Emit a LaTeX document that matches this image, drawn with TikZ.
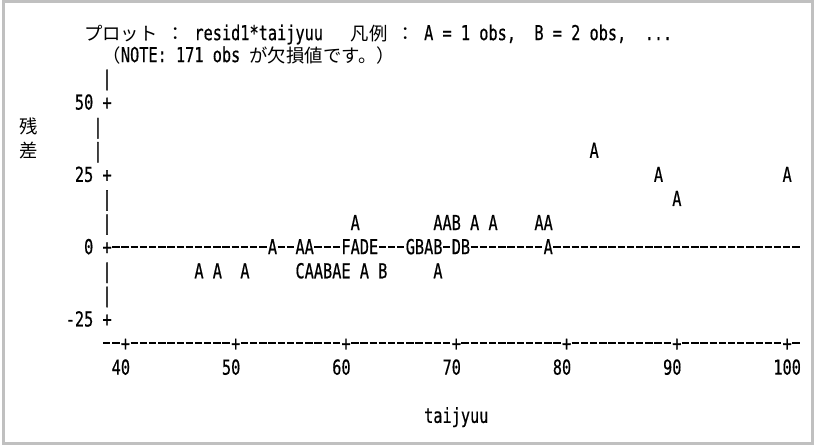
\documentclass[tikz,border=0pt]{standalone}
\usepackage{fontspec}
\usepackage{graphicx}
\newfontfamily\plotmono[FakeBold=0.6]{DejaVu Sans Mono}
\newfontfamily\plotjp{Noto Sans CJK JP}
\definecolor{framegray}{RGB}{192,192,192}
\tikzset{
  lp/.style={inner sep=0pt, anchor=base west, yscale=1.35, transform shape,
    font=\plotmono\fontsize{7.63pt}{9pt}\selectfont},
  jp/.style={inner sep=0pt, anchor=base west,
    font=\plotjp\fontsize{9.19pt}{10pt}\selectfont},
  dashseg/.style={line width=1pt}
}
\begin{document}
\begin{tikzpicture}[x=0.5pt,y=-0.5pt]
  \useasboundingbox (0,0) rectangle (819,445);
  % frame of the output window
  \draw[framegray, line width=1.5pt] (3,1.5) rectangle (812.5,443.5);

  % character grid: one unit = one column, one row
  \begin{scope}[shift={(106.7,78)}, x=4.595pt, y=-12.05pt]
    % title lines
    \node[jp] (plotjp) at (-2.5,-1.57) {プロット};
    \node[jp] (colonA) at (6.5,-1.57) {：};
    \node[lp] (plotvar) at (9.5,-1.57) {resid1*taijyuu};
    \node[jp] (legendjp) at (26.5,-1.57) {凡例};
    \node[jp] (colonB) at (31.5,-1.57) {：};
    \node[lp] (legendA) at (34.5,-1.57) {A = 1 obs,};
    \node[lp] (legendB) at (46.5,-1.57) {B = 2 obs,};
    \node[lp] (legendC) at (58.5,-1.57) {...};
    \node[jp] (noteopen) at (-0.5,-0.66) {（};
    \node[lp] (note) at (1.5,-0.66) {NOTE: 171 obs};
    \node[jp] (notejp) at (15.5,-0.66) {が欠損値です。）};

    % vertical axis
    \foreach \r in {0,5,6,8,9}
      \node[lp] (vbar\r) at (-0.5,\r+0.31) {|};
    \foreach \r in {2,3}
      \node[lp] (vbar\r) at (-1.5,\r+0.31) {|};
    \foreach \r in {1,4,7,10}
      \node[lp] (vtick\r) at (-0.5,\r+0.31) {+};
    \node[lp] (ylab50) at (-3.5,1.31) {50};
    \node[lp] (ylab25) at (-3.5,4.31) {25};
    \node[lp] (ylab0) at (-2.5,7.31) {0};
    \node[lp] (ylabm25) at (-4.5,10.31) {-25};
    \node[jp] (ytitleA) at (-9.5,2.3) {残};
    \node[jp] (ytitleB) at (-9.5,3.3) {差};

    % reference line at 0
    \foreach \a/\b in {1/17,19/20,23/25,30/32,37/37,40/47,49/75}
      \foreach \i in {\a,...,\b}
        \draw[dashseg] (\i-0.4,7) -- (\i+0.4,7);

    % horizontal axis
    \foreach \a/\b in {0/1,3/13,15/25,27/37,39/49,51/61,63/73,75/75}
      \foreach \i in {\a,...,\b}
        \draw[dashseg] (\i-0.4,11) -- (\i+0.4,11);
    \foreach \k/\v in {2/40,14/50,26/60,38/70,50/80,62/90}{
      \node[lp] (htick\v) at (\k-0.5,11.31) {+};
      \node[lp] (xlab\v) at (\k-1.5,12.31) {\v};
    }
    \node[lp] (htick100) at (73.5,11.31) {+};
    \node[lp] (xlab100) at (72.5,12.31) {100};
    \node[lp] (xtitle) at (34.5,14.31) {taijyuu};

    % plotted points
    \node[lp] (pt3a) at (52.5,3.31) {A};
    \node[lp] (pt4a) at (59.5,4.31) {A};
    \node[lp] (pt4b) at (73.5,4.31) {A};
    \node[lp] (pt5a) at (61.5,5.31) {A};
    \node[lp] (pt6a) at (26.5,6.31) {A};
    \node[lp] (pt6b) at (35.5,6.31) {AAB};
    \node[lp] (pt6c) at (39.5,6.31) {A};
    \node[lp] (pt6d) at (41.5,6.31) {A};
    \node[lp] (pt6e) at (46.5,6.31) {AA};
    \node[lp] (pt7a) at (17.5,7.31) {A};
    \node[lp] (pt7b) at (20.5,7.31) {AA};
    \node[lp] (pt7c) at (25.5,7.31) {FADE};
    \node[lp] (pt7d) at (32.5,7.31) {GBAB};
    \node[lp] (pt7e) at (37.5,7.31) {DB};
    \node[lp] (pt7f) at (47.5,7.31) {A};
    \node[lp] (pt8a) at (9.5,8.31) {A};
    \node[lp] (pt8b) at (11.5,8.31) {A};
    \node[lp] (pt8c) at (14.5,8.31) {A};
    \node[lp] (pt8d) at (20.5,8.31) {CAABAE};
    \node[lp] (pt8e) at (27.5,8.31) {A};
    \node[lp] (pt8f) at (29.5,8.31) {B};
    \node[lp] (pt8g) at (35.5,8.31) {A};
  \end{scope}
\end{tikzpicture}
\end{document}
